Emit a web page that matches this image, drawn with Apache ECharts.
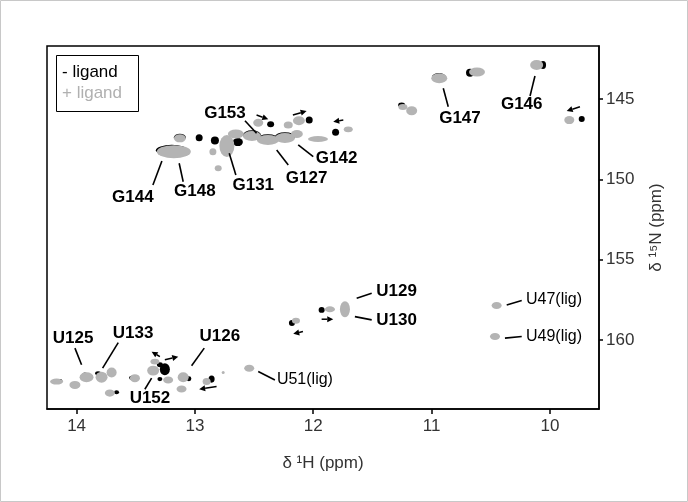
<!DOCTYPE html>
<html>
<head>
<meta charset="utf-8">
<script src="https://cdn.jsdelivr.net/npm/echarts@6/dist/echarts.min.js"></script>
<style>
  html, body { margin: 0; padding: 0; background: #fff; }
  #chart { width: 688px; height: 502px; }
</style>
</head>
<body>
<div id="chart"></div>
<script>
// peaks: [1H ppm, 15N ppm, width 1H ppm, width 15N ppm]
var freePeaks = [ // - ligand (black)
  [10.938, 143.63, 0.118, 0.50], [10.675, 143.36, 0.068, 0.50], [10.058, 142.88, 0.051, 0.50],
  [9.731, 146.24, 0.051, 0.37], [11.253, 145.37, 0.059, 0.31], [12.360, 146.57, 0.059, 0.37],
  [12.034, 146.31, 0.059, 0.44], [11.811, 147.07, 0.059, 0.44], [12.964, 147.41, 0.059, 0.44],
  [12.831, 147.59, 0.068, 0.50], [12.637, 147.68, 0.085, 0.50], [12.518, 147.23, 0.152, 0.56],
  [12.383, 147.48, 0.186, 0.56], [12.239, 147.35, 0.169, 0.56], [13.195, 148.19, 0.270, 0.68],
  [13.127, 147.38, 0.101, 0.44],
  [14.141, 162.53, 0.042, 0.19], [13.930, 162.13, 0.042, 0.19], [13.818, 162.07, 0.051, 0.25],
  [13.662, 163.25, 0.042, 0.25], [13.535, 162.36, 0.042, 0.25], [13.296, 161.55, 0.051, 0.31],
  [13.254, 161.82, 0.085, 0.75], [13.296, 162.44, 0.042, 0.25], [13.051, 162.42, 0.042, 0.31],
  [12.859, 162.44, 0.051, 0.44], [11.929, 158.13, 0.051, 0.37], [12.180, 158.94, 0.051, 0.37]
];
var boundPeaks = [ // + ligand (grey)
  [10.935, 143.71, 0.135, 0.62], [10.616, 143.32, 0.135, 0.56], [10.112, 142.88, 0.110, 0.62],
  [9.836, 146.31, 0.085, 0.50], [11.168, 145.73, 0.093, 0.56], [11.242, 145.50, 0.076, 0.37],
  [12.465, 146.48, 0.085, 0.50], [12.211, 146.62, 0.076, 0.44], [12.121, 146.35, 0.101, 0.56],
  [11.704, 146.89, 0.076, 0.37], [12.654, 147.18, 0.135, 0.56], [12.518, 147.30, 0.152, 0.62],
  [12.383, 147.55, 0.186, 0.62], [12.239, 147.43, 0.169, 0.62], [12.138, 147.18, 0.101, 0.50],
  [11.960, 147.49, 0.169, 0.37], [12.730, 147.93, 0.127, 1.37], [12.848, 148.28, 0.059, 0.44],
  [12.803, 149.31, 0.059, 0.37], [13.127, 147.45, 0.101, 0.50], [13.178, 148.28, 0.287, 0.81],
  [14.169, 162.59, 0.110, 0.37], [14.014, 162.80, 0.093, 0.50], [13.916, 162.32, 0.118, 0.62],
  [13.789, 162.32, 0.101, 0.68], [13.704, 162.03, 0.085, 0.62], [13.719, 163.31, 0.085, 0.44],
  [13.507, 162.38, 0.085, 0.50], [13.338, 161.35, 0.076, 0.37], [13.353, 161.91, 0.101, 0.62],
  [13.226, 162.49, 0.085, 0.44], [13.099, 162.32, 0.093, 0.62], [13.113, 163.05, 0.085, 0.44],
  [12.901, 162.59, 0.068, 0.44], [12.761, 162.03, 0.025, 0.19], [12.541, 161.76, 0.085, 0.44],
  [12.146, 158.81, 0.068, 0.37], [11.859, 158.09, 0.085, 0.37], [11.732, 158.09, 0.085, 1.00],
  [10.450, 157.86, 0.085, 0.44], [10.464, 159.79, 0.085, 0.44]
];
// shift arrows: [H from, N from, H to, N to]
var arrows = [
  [12.479, 146.00, 12.380, 146.26], [12.172, 146.00, 12.056, 145.75], [11.746, 146.31, 11.831, 146.41],
  [9.746, 145.48, 9.858, 145.75], [13.296, 161.04, 13.366, 160.73], [13.254, 161.24, 13.141, 161.04],
  [12.817, 162.90, 12.964, 163.07], [11.929, 158.71, 11.831, 158.71], [12.087, 159.48, 12.169, 159.62]
];
// assignment leader lines
var leaders = [
  [12.577, 146.35, 12.479, 147.13], [10.901, 144.33, 10.859, 145.48], [10.126, 143.57, 10.168, 144.81],
  [12.127, 147.86, 12.000, 148.59], [12.309, 148.17, 12.211, 149.11], [12.710, 148.38, 12.654, 149.73],
  [13.133, 149.00, 13.099, 150.15], [13.279, 148.86, 13.355, 150.35], [14.014, 160.51, 13.958, 161.55],
  [13.648, 160.17, 13.780, 161.76], [12.921, 160.51, 13.028, 161.61], [13.423, 163.07, 13.366, 162.38],
  [12.465, 161.97, 12.324, 162.49], [11.633, 157.40, 11.506, 157.09], [11.648, 158.55, 11.506, 158.75],
  [10.365, 157.82, 10.238, 157.55], [10.380, 159.89, 10.238, 159.79]
];
var residueLabels = [
  ['G153', 12.746, 145.89], ['G147', 10.760, 146.18], ['G146', 10.238, 145.31], ['G142', 11.802, 148.69],
  ['G127', 12.056, 149.94], ['G131', 12.507, 150.35], ['G148', 13.000, 150.77], ['G144', 13.524, 151.10],
  ['U125', 14.029, 159.89], ['U133', 13.522, 159.58], ['U126', 12.789, 159.79], ['U152', 13.380, 163.63],
  ['U129', 11.295, 156.99], ['U130', 11.295, 158.75]
];
var ligandLabels = [
  ['U51(lig)', 12.307, 162.49], ['U47(lig)', 10.202, 157.51], ['U49(lig)', 10.202, 159.81]
];
var hTicks = [10, 11, 12, 13, 14];
var nTicks = [145, 150, 155, 160];

var FONT = '"Liberation Sans", Arial, sans-serif';
var chart = echarts.init(document.getElementById('chart'));

function peakRender(color) {
  return function (params, api) {
    var c = api.coord([api.value(0), api.value(1)]);
    var s = api.size([api.value(2), api.value(3)]);
    return {
      type: 'circle', x: c[0], y: c[1], scaleX: s[0] / 2, scaleY: s[1] / 2,
      shape: { cx: 0, cy: 0, r: 1 },
      style: { fill: color }
    };
  };
}

function lineRender(params, api) {
  var a = api.coord([api.value(0), api.value(1)]);
  var b = api.coord([api.value(2), api.value(3)]);
  return {
    type: 'line', shape: { x1: a[0], y1: a[1], x2: b[0], y2: b[1] },
    style: { stroke: '#000', lineWidth: 1.6 }
  };
}

function arrowRender(params, api) {
  var a = api.coord([api.value(0), api.value(1)]);
  var b = api.coord([api.value(2), api.value(3)]);
  var dx = b[0] - a[0], dy = b[1] - a[1];
  var len = Math.sqrt(dx * dx + dy * dy) || 1;
  var ux = dx / len, uy = dy / len;
  var hl = 6, hw = 3;
  var bx = b[0] - ux * hl, by = b[1] - uy * hl;
  return {
    type: 'group',
    children: [
      { type: 'line', shape: { x1: a[0], y1: a[1], x2: bx, y2: by }, style: { stroke: '#000', lineWidth: 1.5 } },
      { type: 'polygon', shape: { points: [[b[0], b[1]], [bx - uy * hw, by + ux * hw], [bx + uy * hw, by - ux * hw]] }, style: { fill: '#000' } }
    ]
  };
}

function textRender(list, bold, align) {
  return function (params, api) {
    var c = api.coord([api.value(0), api.value(1)]);
    return {
      type: 'text', x: c[0], y: c[1],
      style: {
        text: list[params.dataIndex][0], fill: '#000', align: align, verticalAlign: 'middle',
        font: (bold ? 'bold 17px ' : '16px ') + FONT
      }
    };
  };
}

chart.setOption({
  animation: false,
  grid: { left: 47, right: 89, top: 46, bottom: 93, show: true, borderColor: '#000', borderWidth: 1.5 },
  xAxis: {
    type: 'value', min: 9.585, max: 14.25, inverse: true,
    name: 'δ ¹H (ppm)', nameLocation: 'middle', nameGap: 46,
    nameTextStyle: { fontFamily: FONT, fontSize: 17, color: '#333' },
    axisLine: { lineStyle: { color: '#000', width: 1.5 } },
    axisTick: { customValues: hTicks, length: 5, lineStyle: { color: '#000', width: 1.5 } },
    axisLabel: { customValues: hTicks, margin: 9, fontFamily: FONT, fontSize: 17, color: '#333' },
    splitLine: { show: false }
  },
  yAxis: {
    type: 'value', min: 141.7, max: 164.3, inverse: true, position: 'right',
    name: 'δ ¹⁵N (ppm)', nameLocation: 'middle', nameGap: 49, nameRotate: 90,
    nameTextStyle: { fontFamily: FONT, fontSize: 17, color: '#333' },
    axisLine: { lineStyle: { color: '#000', width: 1.5 } },
    axisTick: { customValues: nTicks, length: 4, lineStyle: { color: '#000', width: 1.5 } },
    axisLabel: { customValues: nTicks, margin: 7, fontFamily: FONT, fontSize: 17, color: '#333' },
    splitLine: { show: false }
  },
  graphic: [
    { type: 'rect', shape: { x: 0.5, y: 0.5, width: 687, height: 501 }, style: { fill: 'none', stroke: '#c8c8c8', lineWidth: 1 }, silent: true },
    { type: 'rect', shape: { x: 56.5, y: 55.5, width: 82, height: 56 }, style: { fill: '#fff', stroke: '#000', lineWidth: 1 }, z: 100 },
    { type: 'text', x: 62, y: 72, z: 101, style: { text: '- ligand', fill: '#000', font: '17px ' + FONT, verticalAlign: 'middle' } },
    { type: 'text', x: 62, y: 93, z: 101, style: { text: '+ ligand', fill: '#b0b0b0', font: '17px ' + FONT, verticalAlign: 'middle' } }
  ],
  series: [
    { type: 'custom', name: '- ligand', renderItem: peakRender('#000'), data: freePeaks, z: 2 },
    { type: 'custom', name: '+ ligand', renderItem: peakRender('#b4b4b4'), data: boundPeaks, z: 3 },
    { type: 'custom', renderItem: arrowRender, data: arrows, z: 4 },
    { type: 'custom', renderItem: lineRender, data: leaders, z: 4 },
    { type: 'custom', renderItem: textRender(residueLabels, true, 'center'), data: residueLabels.map(function (d) { return [d[1], d[2]]; }), z: 5 },
    { type: 'custom', renderItem: textRender(ligandLabels, false, 'left'), data: ligandLabels.map(function (d) { return [d[1], d[2]]; }), z: 5 }
  ]
});
</script>
</body>
</html>
